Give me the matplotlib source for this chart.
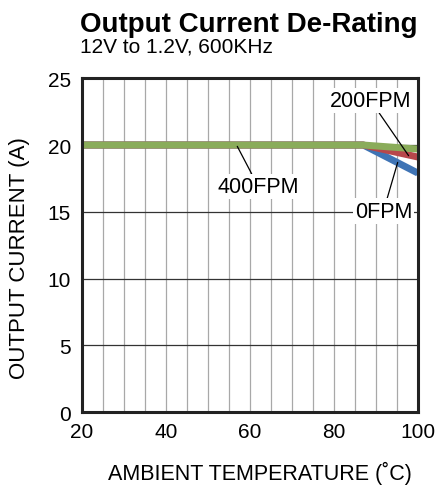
import matplotlib
matplotlib.use("Agg")
import matplotlib.pyplot as plt
import numpy as np

plt.rcParams["font.family"] = ["Liberation Sans", "DejaVu Sans"]

# data
temp = [20, 87, 100]
i_0fpm = [20, 20, 17.9]
i_200fpm = [20, 20, 19.1]
i_400fpm = [20, 20, 19.7]

x_ticks = [20, 40, 60, 80, 100]
y_ticks = [0, 5, 10, 15, 20, 25]

BLUE = "#3f74b5"
RED = "#b8474b"
GREEN = "#8aac5a"

fig = plt.figure(figsize=(4.38, 4.89), dpi=100, facecolor="white")
ax = fig.add_axes([0.187, 0.155, 0.767, 0.683])

# grid
for xv in np.arange(25, 100, 5):
    ax.axvline(xv, color="#a8a8a8", lw=0.9, zorder=1)
for yv in [5, 10, 15, 20]:
    ax.axhline(yv, color="#333333", lw=0.9, zorder=1)

ax.plot(temp, i_0fpm, color=BLUE, lw=5, solid_capstyle="butt", zorder=3, clip_on=False)
ax.plot(temp, i_200fpm, color=RED, lw=5, solid_capstyle="butt", zorder=4, clip_on=False)
ax.plot(temp, i_400fpm, color=GREEN, lw=5, solid_capstyle="butt", zorder=5, clip_on=False)

ax.set_xlim(20, 100)
ax.set_ylim(0, 25)
ax.set_xticks(x_ticks)
ax.set_yticks(y_ticks)
ax.tick_params(length=0, labelsize=15)
ax.tick_params(axis="y", pad=8)
ax.tick_params(axis="x", pad=7)
for s in ax.spines.values():
    s.set_linewidth(2.2)
    s.set_color("#222222")
    s.set_zorder(6)

bbox = dict(boxstyle="square,pad=0.1", fc="white", ec="none")
arrow = dict(arrowstyle="-", color="black", lw=0.9, shrinkA=0, shrinkB=0)
ax.annotate("200FPM", xy=(97.8, 19.2), xytext=(88.7, 23.35), ha="center", va="center",
            fontsize=15.5, bbox=bbox, arrowprops=arrow, zorder=7)
ax.annotate("0FPM", xy=(95.2, 18.7), xytext=(91.8, 15.05), ha="center", va="center",
            fontsize=15.5, bbox=bbox, arrowprops=arrow, zorder=7)
ax.annotate("400FPM", xy=(57.0, 19.9), xytext=(62.0, 16.9), ha="center", va="center",
            fontsize=15.5, bbox=bbox, arrowprops=arrow, zorder=7)

ax.set_xlabel("AMBIENT TEMPERATURE (˚C)", fontsize=15.5)
ax.set_ylabel("OUTPUT CURRENT (A)", fontsize=16)
ax.xaxis.set_label_coords(0.53, -0.145)
ax.yaxis.set_label_coords(-0.155, 0.465)

fig.text(0.183, 0.935, "Output Current De-Rating", fontsize=20, fontweight="bold", va="baseline")
fig.text(0.183, 0.893, "12V to 1.2V, 600KHz", fontsize=15, va="baseline")

fig.savefig("out.png", dpi=100, facecolor="white")
